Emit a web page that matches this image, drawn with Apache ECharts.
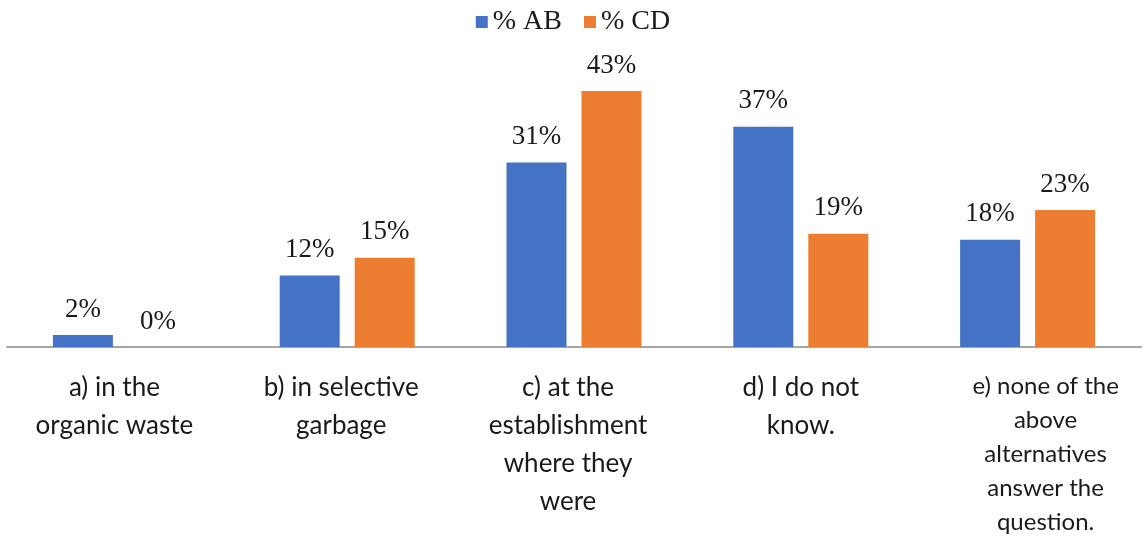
<!DOCTYPE html>
<html>
<head>
<meta charset="utf-8">
<script src="https://cdn.jsdelivr.net/npm/echarts@6/dist/echarts.min.js"></script>
<style>
  html, body { margin: 0; padding: 0; background: #ffffff; }
  #chart { width: 1146px; height: 540px; }
</style>
</head>
<body>
<div id="chart"></div>
<script>
// Answer options (line breaks as shown under the axis)
const categories = [
  'a) in the\norganic waste',
  'b) in selective\ngarbage',
  'c) at the\nestablishment\nwhere they\nwere',
  'd) I do not\nknow.',
  'e) none of the\nabove\nalternatives\nanswer the\nquestion.'
];
const seriesNames = ['% AB', '% CD'];
const valuesAB = [2, 12, 31, 37, 18];
const valuesCD = [0, 15, 43, 19, 23];

const serif = '"Liberation Serif", "Times New Roman", serif';
const sans = 'Lato, "Open Sans", sans-serif';
const textColor = '#1a1a1a';

// rich-text style key for each category label
const labelKeys = ['l', 'l', 'l', 'n', 's'];

const chart = echarts.init(document.getElementById('chart'));

const labelStyle = {
  show: true,
  position: 'top',
  distance: 12,
  fontFamily: serif,
  fontSize: 27,
  color: textColor,
  formatter: p => p.value + '%'
};

chart.setOption({
  animation: false,
  legend: {
    top: 3,
    left: 'center',
    itemWidth: 12,
    itemHeight: 12,
    itemGap: 22,
    icon: 'rect',
    textStyle: { fontFamily: serif, fontSize: 28, color: textColor },
    data: seriesNames
  },
  grid: { left: 7, right: 5, top: 79, height: 268, containLabel: false },
  xAxis: {
    type: 'category',
    data: categories,
    axisLine: { lineStyle: { color: '#a6a6a6', width: 2 } },
    axisTick: { show: false },
    axisLabel: {
      interval: 0,
      margin: 22,
      fontFamily: sans,
      fontSize: 26,
      lineHeight: 38,
      color: textColor,
      formatter: (v, i) => {
        const k = labelKeys[i];
        return v.split('\n').map(line => '{' + k + '|' + line + '}').join('\n');
      },
      rich: {
        l: { fontFamily: sans, fontSize: 26, lineHeight: 38, color: textColor, padding: [0, 12, 0, 0] },
        n: { fontFamily: sans, fontSize: 26, lineHeight: 38, color: textColor },
        s: { fontFamily: sans, fontSize: 24, lineHeight: 34, color: textColor, padding: [0, 0, 0, 36] }
      }
    }
  },
  yAxis: {
    type: 'value',
    min: 0,
    max: 45,
    show: false,
    splitLine: { show: false }
  },
  series: [
    {
      name: seriesNames[0],
      type: 'bar',
      data: valuesAB,
      barWidth: 60,
      barGap: '25%',
      itemStyle: { color: '#4472C4' },
      label: labelStyle
    },
    {
      name: seriesNames[1],
      type: 'bar',
      data: valuesCD,
      barWidth: 60,
      itemStyle: { color: '#ED7D31' },
      label: labelStyle
    }
  ]
});
</script>
</body>
</html>
